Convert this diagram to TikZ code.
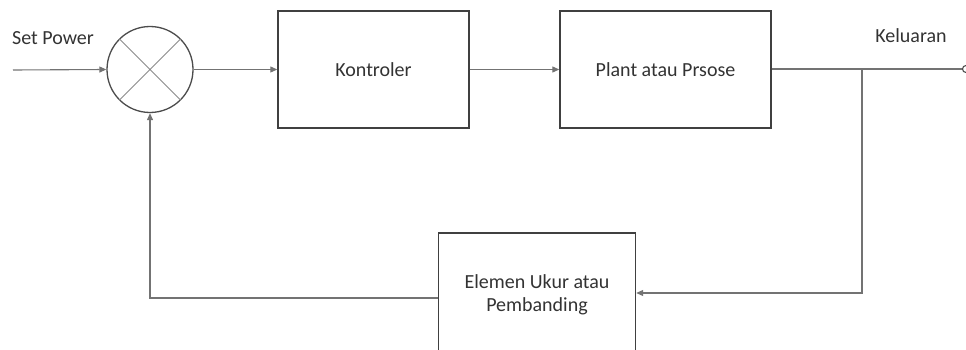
\documentclass[tikz,border=0pt]{standalone}
\usepackage{fontspec}
\setmainfont{Carlito}
\usetikzlibrary{arrows.meta}
\begin{document}
\begin{tikzpicture}[x=1pt,y=-1pt,
  blockbox/.style={draw=black!75, line width=1.4pt, fill=white, inner sep=0pt, font=\fontsize{20}{23.5}\selectfont, text=black!80, align=center},
  conn/.style={draw=black!55, line width=1.1pt, -{Triangle[length=7pt,width=6pt]}},
  plain/.style={draw=black!55, line width=1.1pt},
  lbl/.style={font=\fontsize{20}{23.5}\selectfont, text=black!80, inner sep=0pt}]
\useasboundingbox (0,0) rectangle (966,350);
\clip (0,0) rectangle (966,350);
% summing junction
\node (sum) [draw=black!70, line width=1.3pt, circle, minimum size=86pt, inner sep=0pt, fill=white] at (150,69.5) {};
\draw[black!45, line width=0.9pt] (sum.north west) -- (sum.south east) (sum.north east) -- (sum.south west);
% blocks
\node (ctrl) [blockbox, minimum width=191pt, minimum height=117pt] at (373.5,69.5) {Kontroler};
\node (plant) [blockbox, minimum width=211pt, minimum height=117pt] at (665.5,69.5) {Plant atau Prsose};
\node (meas) [blockbox, minimum width=197pt, minimum height=124pt] at (537,295) {Elemen Ukur atau\\Pembanding};
% coordinates
\coordinate (in) at (13,70);
\coordinate (branch) at (862,69);
\coordinate (out) at (966,69);
\coordinate (bdown) at (862,293);
\coordinate (fbcorner) at (150,298);
% labels
\node (setp) [lbl, anchor=west] at (12,38) {Set Power};
\node (kel) [lbl] at (911,36) {Keluaran};
% connectors
\draw[conn] (in) -- (sum.west);
\draw[conn] (sum.east) -- (ctrl.west);
\draw[conn] (ctrl.east) -- (plant.west);
\draw[plain] (plant.east |- branch) -- (out);
\draw[black!70, line width=1.1pt, fill=white] (out) circle (3.5pt);
\draw[conn] (branch) -- (bdown) -- (meas.east |- bdown);
\draw[conn] (meas.west |- fbcorner) -- (fbcorner) -- (sum.south);
\end{tikzpicture}
\end{document}
